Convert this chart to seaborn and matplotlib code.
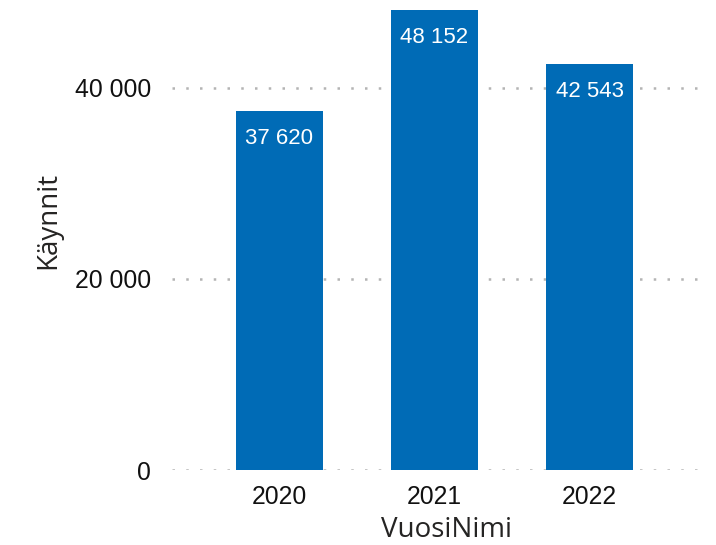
import matplotlib
matplotlib.use("Agg")
from matplotlib import pyplot as plt
from matplotlib.ticker import FuncFormatter
import pandas as pd
import seaborn as sns

years = ["2020", "2021", "2022"]
visits = [37620, 48152, 42543]
yticks = [0, 20000, 40000]

def fmt(v):
    return f"{int(v):,}".replace(",", " ")

df = pd.DataFrame({"VuosiNimi": years, "Käynnit": visits})

sns.set_style("white")
plt.rcParams["font.family"] = ["Liberation Sans", "DejaVu Sans"]

fig = plt.figure(figsize=(7.16, 5.45), dpi=100)
ax = fig.add_axes([172 / 716, 75 / 545, 528 / 716, 470 / 545])

ax.set_axisbelow(True)
for t in yticks:
    ax.axhline(t, color="#b4b4b4", lw=1.8, ls=(0, (1, 4.5)), zorder=0)

sns.barplot(data=df, x="VuosiNimi", y="Käynnit", color="#006bb6",
            saturation=1, width=0.56, linewidth=0, ax=ax, zorder=2)

for i, v in enumerate(visits):
    ax.annotate(fmt(v), (i, v), xytext=(0, -20), textcoords="offset points",
                ha="center", va="center", color="white", fontsize=16)

ax.set_xlim(-0.69, 2.71)
ax.set_ylim(0, 49200)
ax.set_yticks(yticks)
ax.yaxis.set_major_formatter(FuncFormatter(lambda v, p: fmt(v)))
ax.tick_params(axis="y", length=0, pad=15, labelsize=17.8, labelcolor="#111111")
ax.tick_params(axis="x", length=0, pad=11, labelsize=17.8, labelcolor="#111111")
for s in ax.spines.values():
    s.set_visible(False)

ax.set_xlabel("VuosiNimi", fontsize=20, color="#252423", family=["Open Sans", "DejaVu Sans"])
ax.set_ylabel("Käynnit", fontsize=20, color="#252423", family=["Open Sans", "DejaVu Sans"])
ax.xaxis.set_label_coords(0.52, -0.097)
ax.yaxis.set_label_coords(-0.208, 0.53)

plt.savefig("out.png", dpi=100)
